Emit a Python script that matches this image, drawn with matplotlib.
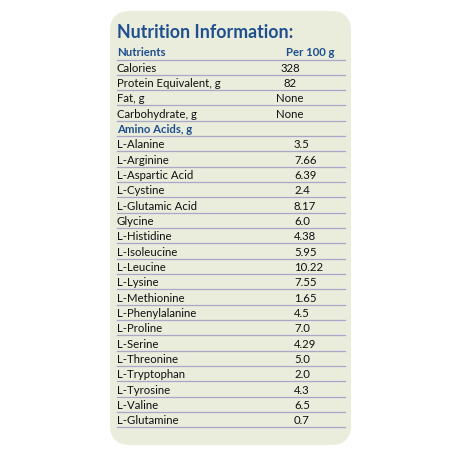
import matplotlib
matplotlib.use("Agg")
import matplotlib.pyplot as plt
from matplotlib.patches import FancyBboxPatch

title = "Nutrition Information:"
header = ["Nutrients", "Per 100 g"]
top_names = ["Calories", "Protein Equivalent, g", "Fat, g", "Carbohydrate, g"]
top_values = ["328", "82", "None", "None"]
section = "Amino Acids, g"
amino_names = ["L-Alanine", "L-Arginine", "L-Aspartic Acid", "L-Cystine", "L-Glutamic Acid",
               "Glycine", "L-Histidine", "L-Isoleucine", "L-Leucine", "L-Lysine",
               "L-Methionine", "L-Phenylalanine", "L-Proline", "L-Serine", "L-Threonine",
               "L-Tryptophan", "L-Tyrosine", "L-Valine", "L-Glutamine"]
amino_values = ["3.5", "7.66", "6.39", "2.4", "8.17", "6.0", "4.38", "5.95", "10.22", "7.55",
                "1.65", "4.5", "7.0", "4.29", "5.0", "2.0", "4.3", "6.5", "0.7"]

blue = "#1f4f8f"
line_c = "#a8a8c8"
fs = 8.2
fig = plt.figure(figsize=(4.6, 4.6), dpi=100)
ax = fig.add_axes([0, 0, 1, 1])
ax.set_xlim(0, 460); ax.set_ylim(460, 0); ax.axis("off")
ax.add_patch(FancyBboxPatch((110, 12), 241, 434, boxstyle="round,pad=0,rounding_size=20",
                            fc="#eaecdc", ec="none"))
fam = ["Lato", "DejaVu Sans"]
ax.text(117, 33, title, color=blue, fontsize=12.8, fontweight="bold", va="center", family=fam)
L, R = 117, 345
y = 53
ax.text(L, y, header[0], color=blue, fontsize=fs, fontweight="bold", va="center", family=fam)
ax.text(310, y, header[1], color=blue, fontsize=fs, fontweight="bold", va="center", ha="center", family=fam)
ax.plot([L, R], [y + 7.5, y + 7.5], color=line_c, lw=0.9)
step = 15.33
for n, v in zip(top_names, top_values):
    y += step
    ax.text(L, y, n, fontsize=fs, va="center", color="#111", family=fam)
    ax.text(290, y, v, fontsize=fs, va="center", ha="center", color="#111", family=fam)
    ax.plot([L, R], [y + 7.5, y + 7.5], color=line_c, lw=0.9)
y += step
ax.text(L, y, section, color=blue, fontsize=fs, fontweight="bold", va="center", family=fam)
ax.plot([L, R], [y + 7.5, y + 7.5], color=line_c, lw=0.9)
for n, v in zip(amino_names, amino_values):
    y += step
    ax.text(L, y, n, fontsize=fs, va="center", color="#111", family=fam)
    ax.text(294, y, v, fontsize=fs, va="center", ha="left", color="#111", family=fam)
    ax.plot([L, R], [y + 7.5, y + 7.5], color=line_c, lw=0.9)
fig.savefig("out.png", dpi=100, facecolor="white")
